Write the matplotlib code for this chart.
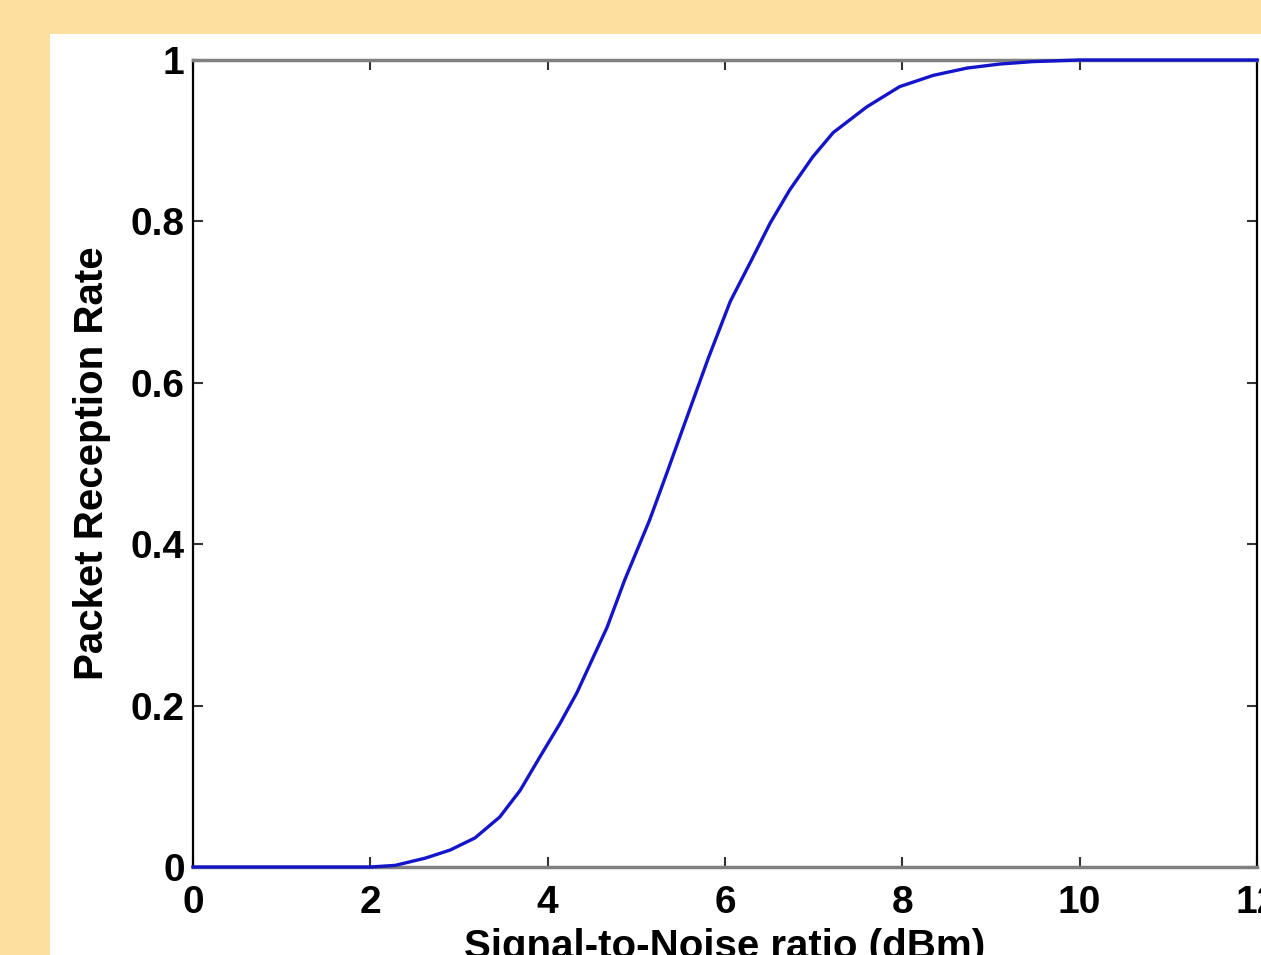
import matplotlib
matplotlib.use("Agg")
import matplotlib.pyplot as plt
from matplotlib.patches import Rectangle

# values
snr = [0, 1, 2, 2.28, 2.62, 2.90, 3.18, 3.46, 3.69, 3.91, 4.14, 4.33, 4.51,
       4.67, 4.87, 5.15, 5.35, 5.53, 5.81, 6.06, 6.28, 6.51, 6.73, 6.99, 7.22,
       7.60, 7.97, 8.35, 8.73, 9.10, 9.47, 10, 11, 12]
prr = [0, 0, 0, 0.002, 0.011, 0.021, 0.036, 0.062, 0.095, 0.136, 0.178, 0.216,
       0.259, 0.297, 0.356, 0.430, 0.490, 0.545, 0.630, 0.701, 0.748, 0.798,
       0.839, 0.880, 0.910, 0.942, 0.967, 0.981, 0.990, 0.995, 0.998, 1, 1, 1]
xticks = [0, 2, 4, 6, 8, 10, 12]
yticks = [0, 0.2, 0.4, 0.6, 0.8, 1]
yticklabels = ["0", "0.2", "0.4", "0.6", "0.8", "1"]

plt.rcParams['font.family'] = ['Liberation Sans', 'DejaVu Sans']
plt.rcParams['font.weight'] = 'bold'

fig = plt.figure(figsize=(12.61, 9.55), dpi=100)
fig.patch.set_facecolor('#fddfa0')
# white slide panel behind the chart
fig.patches.append(Rectangle((50 / 1261, 0), 1, (955 - 34) / 955,
                             transform=fig.transFigure, facecolor='white',
                             edgecolor='none', zorder=-10))

ax = fig.add_axes([193 / 1261, 88 / 955, 1064 / 1261, 807 / 955])
ax.plot(snr, prr, color='#1414c8', linewidth=2.4, clip_on=False, zorder=3)

ax.set_xlim(0, 12)
ax.set_ylim(0, 1)
ax.set_xticks(xticks)
ax.set_yticks(yticks)
ax.set_yticklabels(yticklabels)
ax.tick_params(direction='in', length=7, width=1.5, labelsize=28,
               top=True, right=True, color='#333333')
ax.tick_params(axis='x', pad=13)
ax.tick_params(axis='y', pad=6)

for s in ['top', 'bottom']:
    ax.spines[s].set_color('#808080')
    ax.spines[s].set_linewidth(2.5)
for s in ['left', 'right']:
    ax.spines[s].set_color('black')
    ax.spines[s].set_linewidth(1.6)

ax.set_xlabel('Signal-to-Noise ratio (dBm)', fontsize=29, fontweight='bold', labelpad=5)
ax.set_ylabel('Packet Reception Rate', fontsize=29, fontweight='bold', labelpad=14)

fig.savefig('out.png', dpi=100, facecolor=fig.get_facecolor())
